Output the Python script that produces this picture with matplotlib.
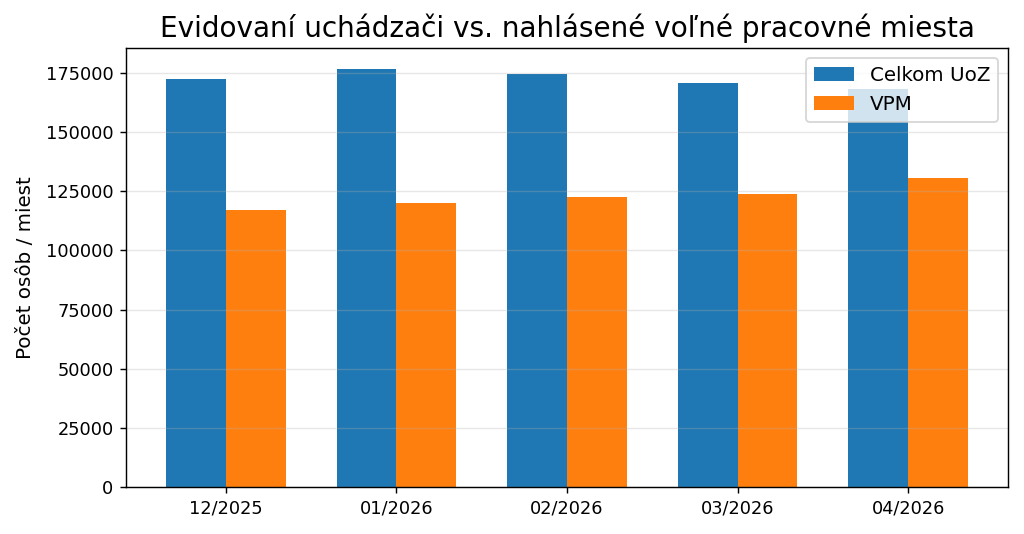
import matplotlib
matplotlib.use("Agg")
import matplotlib.pyplot as plt
import numpy as np

months = ["12/2025", "01/2026", "02/2026", "03/2026", "04/2026"]
uoz = [172600, 176700, 174700, 170900, 168000]
vpm = [117150, 119850, 122650, 123950, 130450]

fig = plt.figure(figsize=(8, 534 / 128), dpi=128)
ax = fig.add_axes([126 / 1024, 1 - 487 / 534, (1008 - 126) / 1024, (487 - 48) / 534])

x = np.arange(len(months))
w = 0.35
ax.bar(x - w / 2, uoz, w, label="Celkom UoZ", color="#1f77b4")
ax.bar(x + w / 2, vpm, w, label="VPM", color="#ff7f0e")
ax.set_xticks(x)
ax.set_xticklabels(months)
ax.set_ylabel("Počet osôb / miest", fontsize=11.2, labelpad=6)
ax.set_title("Evidovaní uchádzači vs. nahlásené voľné pracovné miesta", fontsize=15.7)
ax.grid(axis="y", alpha=0.3)
ax.legend(loc="upper right", fontsize=11.2)

fig.savefig("out.png", dpi=128)
